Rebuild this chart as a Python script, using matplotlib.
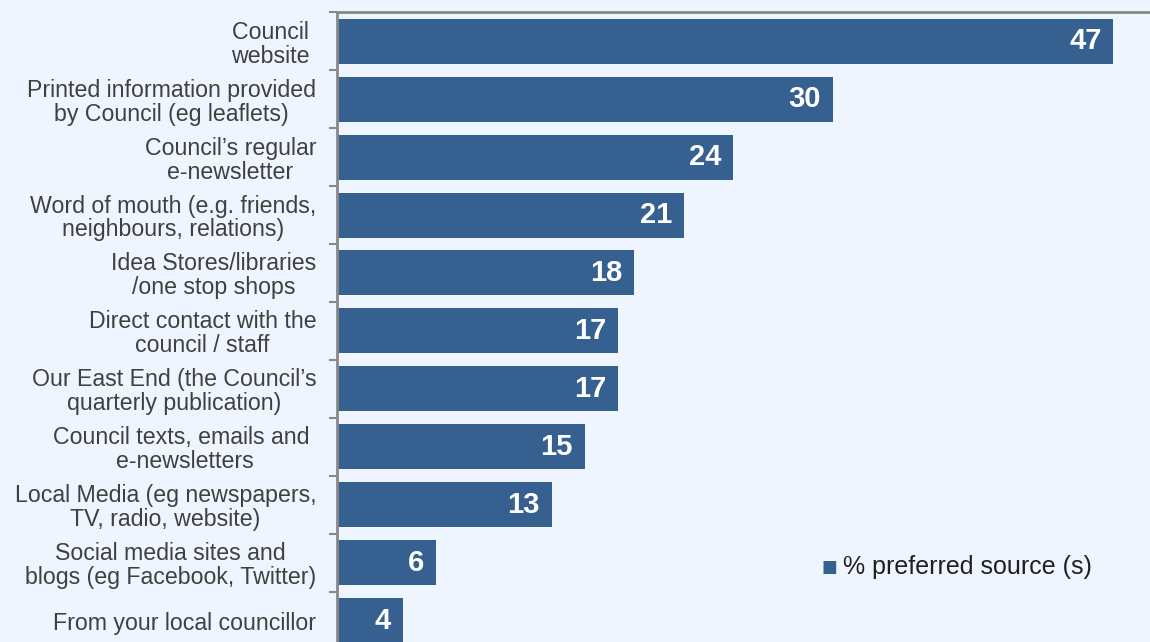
import matplotlib.pyplot as plt
import numpy as np

plt.rcParams['font.family'] = ['Liberation Sans', 'DejaVu Sans']

categories = [
    'Council \nwebsite ',
    'Printed information provided\nby Council (eg leaflets)',
    'Council\u2019s regular\ne-newsletter',
    'Word of mouth (e.g. friends,\nneighbours, relations)',
    'Idea Stores/libraries\n/one stop shops',
    'Direct contact with the\ncouncil / staff',
    'Our East End (the Council\u2019s\nquarterly publication)',
    'Council texts, emails and \ne-newsletters',
    'Local Media (eg newspapers,\nTV, radio, website)',
    'Social media sites and\nblogs (eg Facebook, Twitter)',
    'From your local councillor',
]
values = [47, 30, 24, 21, 18, 17, 17, 15, 13, 6, 4]
series_name = '% preferred source (s)'

bg = '#EEF5FE'
bar_color = '#35608F'

fig = plt.figure(figsize=(11.5, 6.42), dpi=100, facecolor=bg)
W, H = 1150, 642
left, right = 337 / W, 1163 / W
top, bottom = 1 - 12.3 / H, 1 - 649.5 / H
ax = fig.add_axes([left, bottom, right - left, top - bottom], facecolor=bg)

y = np.arange(len(categories))
ax.barh(y, values, height=0.776, color=bar_color, zorder=2)
ax.set_xlim(0, 50)
ax.set_ylim(len(categories) - 0.5, -0.5)

for yi, v in zip(y, values):
    ax.text(v - 0.72, yi, str(v), ha='right', va='center', color='white',
            fontsize=21, fontweight='bold', zorder=3)

ax.set_yticks(y)
ax.set_yticklabels(categories, fontsize=16.7, color='#404040',
                   multialignment='center', linespacing=1.05)
ax.tick_params(axis='y', which='major', length=0, pad=15)
ax.set_yticks(np.arange(len(categories) + 1) - 0.5, minor=True)
ax.tick_params(axis='y', which='minor', length=6, color='#888888', width=1.5)
ax.set_xticks([])

for s in ['right', 'bottom']:
    ax.spines[s].set_visible(False)
for s in ['left', 'top']:
    ax.spines[s].set_color('#888888')
    ax.spines[s].set_linewidth(2)

# legend
fig.text(829 / W, 1 - 567 / H, '\u25a0', color=bar_color, fontsize=12,
         ha='center', va='center', family='DejaVu Sans')
fig.text(843 / W, 1 - 567 / H, series_name, fontsize=18, color='#202020',
         ha='left', va='center')

fig.savefig('out.png', dpi=100, facecolor=bg)
